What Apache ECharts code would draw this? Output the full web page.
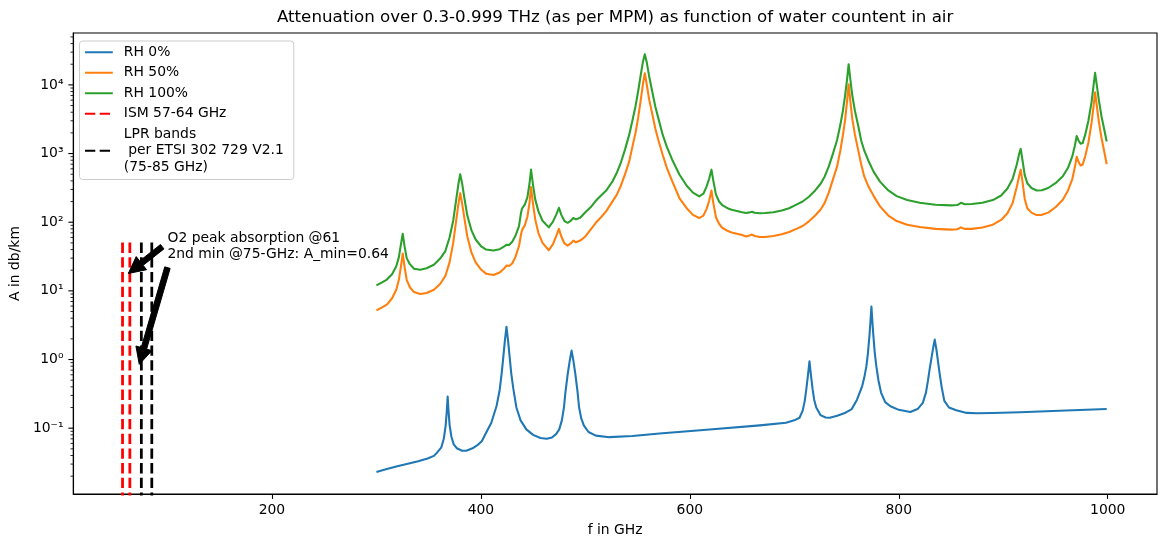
<!DOCTYPE html>
<html>
<head>
<meta charset="utf-8">
<script src="https://cdn.jsdelivr.net/npm/echarts@6/dist/echarts.min.js"></script>
<style>
  html, body { margin: 0; padding: 0; background: #fff; }
  #chart { width: 1167px; height: 547px; }
</style>
</head>
<body>
<div id="chart"></div>
<script>
const chartTitle = 'Attenuation over 0.3-0.999 THz (as per MPM) as function of water countent in air';
const seriesNames = ['RH 0%', 'RH 50%', 'RH 100%', 'ISM 57-64 GHz', 'LPR bands\n per ETSI 302 729 V2.1\n(75-85 GHz)'];

// RH 0% (dry air)
const dryFreq = [300, 310, 320, 330, 340, 349, 355, 358, 362, 364.5, 366.3, 367.4, 368.2, 369, 370.1, 371.8, 374, 377,
  382, 386, 392, 397, 401, 405, 410, 415, 418, 420, 421.5, 423, 424.5, 426, 427.5, 429, 431, 434, 438, 443.5,
  450, 457, 463, 468, 472, 475, 477.5, 479.5, 481, 483, 485, 486.8, 488.6, 490.5, 492.5, 494, 496, 498.5, 503,
  510, 523, 545, 571, 619, 667, 692, 700, 705, 708, 710, 711.5, 713, 714.5, 716, 717.5, 719, 721, 725, 730, 734,
  741, 749, 755, 760, 765, 767, 769, 770.5, 772, 773, 773.8, 774.6, 775.6, 777, 778.5, 780.5, 783, 787, 792, 800,
  811, 818, 823, 826, 828, 829.5, 831.5, 833, 834.4, 836, 837.5, 839, 841, 843.6, 848, 855, 865, 875, 890, 916,
  960, 999];
const rh0 = [0.023, 0.0255, 0.0278, 0.0303, 0.033, 0.0362, 0.0395, 0.044, 0.052, 0.07, 0.11, 0.18, 0.29, 0.18, 0.11, 0.075, 0.058, 0.051,
  0.047, 0.047, 0.051, 0.057, 0.065, 0.086, 0.12, 0.21, 0.36, 0.65, 1.1, 1.9, 3.0, 1.9, 1.1, 0.64, 0.38, 0.2, 0.13, 0.096,
  0.08, 0.072, 0.07, 0.073, 0.082, 0.096, 0.13, 0.2, 0.34, 0.6, 0.95, 1.35, 0.95, 0.6, 0.34, 0.2, 0.14, 0.11, 0.088,
  0.078, 0.074, 0.077, 0.0838, 0.0958, 0.11, 0.12, 0.13, 0.142, 0.18, 0.25, 0.37, 0.58, 0.94, 0.58, 0.37, 0.26, 0.2, 0.155, 0.143, 0.142,
  0.152, 0.168, 0.19, 0.26, 0.41, 0.55, 0.8, 1.25, 2.3, 3.8, 5.9, 3.8, 2.3, 1.25, 0.8, 0.5, 0.33, 0.24, 0.209, 0.185,
  0.172, 0.19, 0.234, 0.33, 0.5, 0.72, 1.1, 1.5, 1.95, 1.4, 0.95, 0.64, 0.4, 0.25, 0.2, 0.183, 0.167, 0.165, 0.166, 0.171,
  0.181, 0.19];

// RH 50% / RH 100% share one frequency grid
const wetFreq = [300, 305, 310, 315, 319, 321.5, 323.5, 325.2, 327, 329, 332, 336, 342, 348, 355, 361, 366, 370,
  373.5, 376.5, 378.5, 380.2, 382, 384, 387, 391, 395, 400, 405, 412, 418, 422, 424.8, 427, 430, 433, 436.5, 438.5,
  439.6, 442, 444.5, 446.5, 448, 449.8, 452, 455, 459, 465, 469, 472, 474.7, 477, 480, 483, 486, 488.5, 491, 495,
  500, 505, 510, 515, 520, 526, 530, 534, 538, 542, 545, 548, 550.5, 553, 555.2, 556.9, 558.6, 561, 564, 567, 570,
  574, 578, 583, 590, 597, 603, 609, 613, 616, 618.5, 620.7, 622.5, 625, 628, 631, 636, 640, 645, 650, 654, 657,
  659.5, 662, 667, 672, 680, 688, 695, 702, 708, 714, 720, 725, 729, 733, 737, 741, 744, 746.5, 748.5, 750.5, 752,
  753.5, 755.5, 758, 761, 764, 767, 771, 776, 782, 790, 798, 808, 820, 835, 850, 856, 859.5, 863, 870, 880, 890,
  898, 904, 909, 913, 915.3, 916.7, 918.3, 920.5, 923, 927, 932, 937, 943, 950, 957, 962, 966, 968.5, 970.3, 972,
  974, 976, 978.5, 981.5, 984.5, 986.5, 987.9, 989.3, 991.5, 994, 996.5, 999];
const rh50 = [5.2, 5.7, 6.3, 7.8, 10.4, 14.5, 23, 35, 22, 14.5, 11.3, 9.6, 9, 9.3, 10.4, 12.6, 16.5, 26,
  50, 110, 185, 265, 190, 120, 62, 36, 26, 20.5, 17.8, 17, 18.5, 21, 23.5, 23, 25, 31, 45, 68,
  78, 90, 120, 190, 326, 190, 110, 70, 50, 39, 48, 62, 80, 62, 49, 45.6, 49, 54, 51, 54,
  62, 78, 98, 118, 145, 201, 250, 340, 500, 770, 1250, 2000, 3300, 6000, 10500, 14800, 10500, 6200, 3800, 2300, 1550,
  960, 620, 400, 225, 160, 128, 115, 125, 155, 205, 290, 190, 118, 95, 83, 75, 71, 68, 65, 62, 64,
  66, 63, 61, 61, 63, 67, 72, 80, 88, 103, 125, 152, 190, 270, 420, 650, 1100, 1850, 3000, 5800, 10200,
  6000, 3200, 1900, 1150, 700, 460, 330, 240, 170, 125, 104, 92, 85, 80, 78, 79, 84, 80, 80, 84, 92,
  108, 135, 190, 330, 480, 583, 400, 220, 160, 138, 127, 128, 138, 165, 213, 290, 420, 630, 900, 760,
  670, 690, 920, 1450, 2800, 5000, 7800, 5300, 2900, 1700, 1100, 700];
const rh100 = [12, 13.2, 14.6, 17.5, 22.8, 31, 48, 68, 44, 30, 24.5, 21, 20.3, 21.4, 24, 29.5, 38, 60,
  105, 220, 360, 500, 370, 235, 125, 76, 56, 45, 40, 38.6, 40.5, 44, 47, 46.5, 52, 63, 88, 140,
  161, 180, 230, 360, 583, 360, 215, 145, 105, 84, 102, 128, 162, 128, 104, 98, 105, 115, 110, 116,
  140, 165, 205, 245, 290, 394, 520, 740, 1150, 1885, 3000, 4900, 8000, 14000, 22000, 28000, 22000, 13500, 8000, 4800, 3200,
  1885, 1250, 820, 495, 340, 270, 238, 260, 330, 430, 583, 400, 252, 200, 178, 160, 152, 146, 140, 136, 139,
  142, 137, 135, 136, 140, 148, 160, 180, 200, 235, 290, 360, 460, 650, 1000, 1590, 2600, 4200, 6800, 12000, 20000,
  12500, 7000, 4200, 2600, 1550, 1100, 780, 540, 390, 290, 240, 210, 192, 180, 176, 178, 192, 183, 184, 192, 210,
  245, 310, 430, 700, 1000, 1170, 820, 490, 370, 315, 290, 292, 315, 370, 466, 620, 900, 1300, 1800, 1550,
  1390, 1420, 1900, 3000, 5600, 10000, 15000, 10500, 6000, 3500, 2300, 1500];

// band markers (vertical dashed lines)
const ismFreqs = [57, 64];
const lprFreqs = [75, 85];
const bandTop = 55;
const bandBottom = 0.005;

// annotations
const annotTexts = ['O2 peak absorption @61', '2nd min @75-GHz: A_min=0.64'];
const annotTextPos = [[100, 50], [100, 30]];
const arrowTails = [[95, 44], [100, 21.8]];
const arrowTips = [[62.5, 17.9], [73, 0.85]];

// axes
const xMin = 9.85, xMax = 1047.15;
const xTicks = [200, 400, 600, 800, 1000];
const yMin = 0.011, yMax = 57000;

const FONT = '"DejaVu Sans", sans-serif';
const sup = { '0': '⁰', '1': '¹', '2': '²', '3': '³', '4': '⁴', '5': '⁵', '-': '⁻' };

function pairs(xs, ys) { return xs.map((x, i) => [x, ys[i]]); }
function vlines(xs) {
  const out = [];
  xs.forEach((x, i) => {
    if (i > 0) out.push([x, '-']);
    out.push([x, bandBottom], [x, bandTop]);
  });
  return out;
}

const chart = echarts.init(document.getElementById('chart'));

function curve(name, color, data) {
  return {
    name: name, type: 'line', data: data, symbol: 'none', showSymbol: false,
    lineStyle: { color: color, width: 2.08, join: 'round' }, itemStyle: { color: color },
    silent: true, clip: true, z: 3
  };
}
function band(name, color, data) {
  return {
    name: name, type: 'line', data: data, symbol: 'none', showSymbol: false,
    lineStyle: { color: color, width: 2.78, type: [10.3, 4.4] }, itemStyle: { color: color },
    silent: true, clip: true, z: 2
  };
}

chart.setOption({
  animation: false,
  textStyle: { fontFamily: FONT },
  grid: { left: 72, right: 10, top: 33, bottom: 53, show: true, borderColor: '#000', borderWidth: 1.1, containLabel: false },
  legend: {
    data: seriesNames, orient: 'vertical', left: 79.5, top: 41,
    itemWidth: 27.8, itemHeight: 14, itemGap: 4,
    padding: [3, 10, 4, 4.5],
    backgroundColor: 'rgba(255,255,255,0.8)', borderColor: '#cccccc', borderWidth: 1, borderRadius: 3,
    itemStyle: { opacity: 0 },
    textStyle: { fontSize: 13.9, lineHeight: 16.5, color: '#000', fontFamily: FONT, padding: [0, 0, 0, 6] },
    selectedMode: false
  },
  xAxis: {
    type: 'value', min: xMin, max: xMax,
    name: 'f in GHz', nameLocation: 'middle', nameGap: 29,
    nameTextStyle: { fontSize: 13.9, color: '#000', fontFamily: FONT },
    axisLine: { lineStyle: { color: '#000', width: 1.1 } },
    axisTick: { customValues: xTicks, length: 4.9, lineStyle: { color: '#000', width: 1.1 } },
    axisLabel: { customValues: xTicks, margin: 9.8, fontSize: 13.9, color: '#000', fontFamily: FONT,
      formatter: function (v) { return String(v); } },
    splitLine: { show: false }
  },
  yAxis: {
    type: 'log', logBase: 10, min: yMin, max: yMax,
    name: 'A in db/km', nameLocation: 'middle', nameGap: 44,
    nameTextStyle: { fontSize: 13.9, color: '#000', fontFamily: FONT },
    axisLine: { show: true, lineStyle: { color: '#000', width: 1.1 } },
    axisTick: { show: false },
    axisLabel: {
      margin: 9.8, fontSize: 13.9, color: '#000', fontFamily: FONT,
      formatter: function (v) {
        const e = Math.log10(v);
        const r = Math.round(e);
        if (Math.abs(e - r) > 1e-6) return '';
        return '10' + String(r).split('').map(c => sup[c]).join('');
      }
    },
    splitLine: { show: false }
  },
  series: [
    curve(seriesNames[0], '#1f77b4', pairs(dryFreq, rh0)),
    curve(seriesNames[1], '#ff7f0e', pairs(wetFreq, rh50)),
    curve(seriesNames[2], '#2ca02c', pairs(wetFreq, rh100)),
    band(seriesNames[3], '#ff0000', vlines(ismFreqs)),
    band(seriesNames[4], '#000000', vlines(lprFreqs)),
    {
      name: 'arrows', type: 'custom', silent: true, z: 5,
      data: arrowTails.map((t, i) => [t[0], t[1], arrowTips[i][0], arrowTips[i][1]]),
      encode: { x: [0, 2], y: [1, 3] },
      renderItem: function (params, api) {
        const p0 = api.coord([api.value(0), api.value(1)]);
        const p1 = api.coord([api.value(2), api.value(3)]);
        const dx = p1[0] - p0[0], dy = p1[1] - p0[1];
        const len = Math.hypot(dx, dy);
        const ux = dx / len, uy = dy / len, nx = -uy, ny = ux;
        const w = 2.8, hw = 8.35, hl = 16.7;
        const bx = p1[0] - ux * hl, by = p1[1] - uy * hl;
        return {
          type: 'polygon',
          shape: { points: [
            [p0[0] + nx * w, p0[1] + ny * w], [bx + nx * w, by + ny * w], [bx + nx * hw, by + ny * hw],
            [p1[0], p1[1]],
            [bx - nx * hw, by - ny * hw], [bx - nx * w, by - ny * w], [p0[0] - nx * w, p0[1] - ny * w]
          ] },
          style: { fill: '#000', stroke: '#000', lineWidth: 1 }
        };
      }
    },
    {
      name: 'notes', type: 'custom', silent: true, z: 6,
      data: annotTextPos.map(p => [p[0], p[1]]),
      encode: { x: 0, y: 1 },
      renderItem: function (params, api) {
        const p = api.coord([api.value(0), api.value(1)]);
        return {
          type: 'text', x: p[0], y: p[1] + 3,
          style: { text: annotTexts[params.dataIndex], fill: '#000', font: '13.9px ' + FONT, align: 'left', verticalAlign: 'bottom' }
        };
      }
    }
  ]
});

// title, y ticks (major + log minor) placed through the axis scale
const gx = chart.convertToPixel({ xAxisIndex: 0 }, xMin);
const gxr = chart.convertToPixel({ xAxisIndex: 0 }, xMax);
const graphics = [{
  type: 'text', x: (gx + gxr) / 2, y: 18,
  style: { text: chartTitle, fill: '#000', font: '16.7px ' + FONT, align: 'center', verticalAlign: 'middle' }
}];
for (let n = -2; n <= 4; n++) {
  for (let k = 1; k <= 9; k++) {
    const v = k * Math.pow(10, n);
    if (v < yMin || v > yMax) continue;
    const py = chart.convertToPixel({ yAxisIndex: 0 }, v);
    const major = k === 1;
    graphics.push({
      type: 'line',
      shape: { x1: gx - (major ? 4.9 : 2.8), y1: py, x2: gx, y2: py },
      style: { stroke: '#000', lineWidth: major ? 1.1 : 0.83 }
    });
  }
}
chart.setOption({ graphic: graphics });
window.addEventListener('resize', function () { chart.resize(); });
</script>
</body>
</html>
